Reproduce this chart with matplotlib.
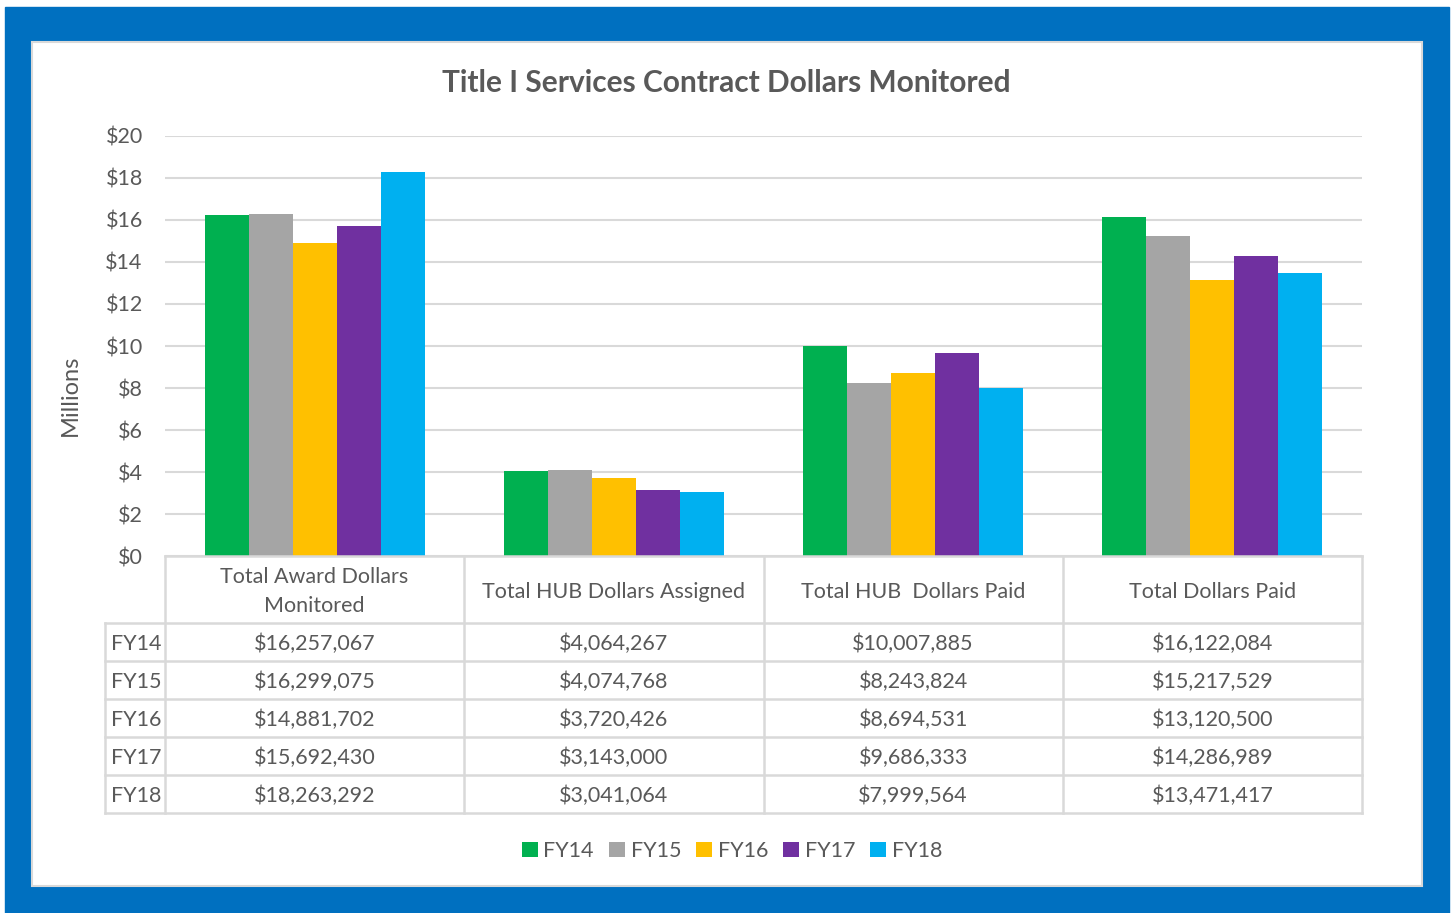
import matplotlib.pyplot as plt
import matplotlib.patches as mpatches
from matplotlib.lines import Line2D
import numpy as np

# data
categories = ['Total Award Dollars\nMonitored', 'Total HUB Dollars Assigned',
              'Total HUB  Dollars Paid', 'Total Dollars Paid']
years = ['FY14', 'FY15', 'FY16', 'FY17', 'FY18']
fy14 = [16257067, 4064267, 10007885, 16122084]
fy15 = [16299075, 4074768, 8243824, 15217529]
fy16 = [14881702, 3720426, 8694531, 13120500]
fy17 = [15692430, 3143000, 9686333, 14286989]
fy18 = [18263292, 3041064, 7999564, 13471417]
series = [fy14, fy15, fy16, fy17, fy18]
colors = ['#00B050', '#A5A5A5', '#FFC000', '#7030A0', '#00B0F0']
yticks = [0, 2, 4, 6, 8, 10, 12, 14, 16, 18, 20]

W, H = 1452, 913
txt = '#595959'
grid = '#D9D9D9'
plt.rcParams['font.family'] = ['Lato', 'DejaVu Sans']

fig = plt.figure(figsize=(W / 100, H / 100), dpi=100)
fig.patch.set_facecolor('white')

def fx(px):
    return px / W

def fy(py):
    return 1 - py / H

# blue frame and white inner panel
fig.patches.append(mpatches.Rectangle((fx(5), 0), fx(1449) - fx(5), fy(7),
                                      transform=fig.transFigure, color='#0070C0', zorder=-10))
fig.patches.append(mpatches.Rectangle((fx(32), fy(886)), fx(1422) - fx(32), fy(42) - fy(886),
                                      transform=fig.transFigure, facecolor='white',
                                      edgecolor='#D9D9D9', lw=1.5, zorder=-9))

# bar chart
x0, x1, ytop, ybot = 165, 1362, 136, 556
ax = fig.add_axes([fx(x0), fy(ybot), fx(x1) - fx(x0), fy(ytop) - fy(ybot)])
ax.set_facecolor('none')
x = np.arange(len(categories))
bw = 44 / 299
for i, (vals, c, yr) in enumerate(zip(series, colors, years)):
    ax.bar(x + (i - 2) * bw, np.array(vals) / 1e6, width=bw, color=c, label=yr, zorder=3)
ax.set_xlim(-0.5, len(categories) - 0.5)
ax.set_ylim(0, 20)
ax.set_yticks(yticks)
ax.set_yticklabels(['$%d' % t for t in yticks], color=txt, fontsize=15.5)
ax.tick_params(axis='y', length=0, pad=16)
ax.set_xticks([])
ax.grid(axis='y', color=grid, lw=1.5, zorder=0)
for s in ax.spines.values():
    s.set_visible(False)
fig.text(fx(70), fy(395), 'Millions', rotation=90, ha='center', va='center',
         color=txt, fontsize=17)

fig.text(0.5, fy(83), 'Title I Services Contract Dollars Monitored', ha='center', va='center',
         fontsize=21.5, fontweight='bold', color=txt)

# data table below
tab = fig.add_axes([0, 0, 1, 1])
tab.set_xlim(0, W)
tab.set_ylim(H, 0)
tab.axis('off')
tab.patch.set_visible(False)
col_edges = [x0 + k * (x1 - x0) / 4 for k in range(5)]
head_top, head_bot, row_h = 556, 623, 38
left = 105
bottom = head_bot + row_h * len(years)
lk = dict(color=grid, lw=1.8)
for xe in col_edges:
    tab.add_line(Line2D([xe, xe], [head_top, bottom], **lk))
tab.add_line(Line2D([left, left], [head_bot, bottom], **lk))
tab.add_line(Line2D([x0, x1], [head_top, head_top], **lk))
for r in range(len(years) + 1):
    yy = head_bot + r * row_h
    tab.add_line(Line2D([left, x1], [yy, yy], **lk))
for k, cat in enumerate(categories):
    cx = (col_edges[k] + col_edges[k + 1]) / 2
    tab.text(cx, (head_top + head_bot) / 2 + 2, cat, ha='center', va='center', color=txt,
             fontsize=15.5, linespacing=1.55)
for r, (yr, vals) in enumerate(zip(years, series)):
    cy = head_bot + (r + 0.5) * row_h + 2
    tab.text(left + 6, cy, yr, ha='left', va='center', color=txt, fontsize=15.5)
    for k, v in enumerate(vals):
        cx = (col_edges[k] + col_edges[k + 1]) / 2
        tab.text(cx, cy, '${:,}'.format(v), ha='center', va='center', color=txt, fontsize=15.5)

handles, labels = ax.get_legend_handles_labels()
fig.legend(handles, labels, loc='center', bbox_to_anchor=(fx(732), fy(851)), ncol=5,
           frameon=False, fontsize=15.5, handlelength=0.75, handleheight=0.75,
           handletextpad=0.25, columnspacing=0.7, labelcolor=txt)

fig.savefig('out.png', dpi=100)
